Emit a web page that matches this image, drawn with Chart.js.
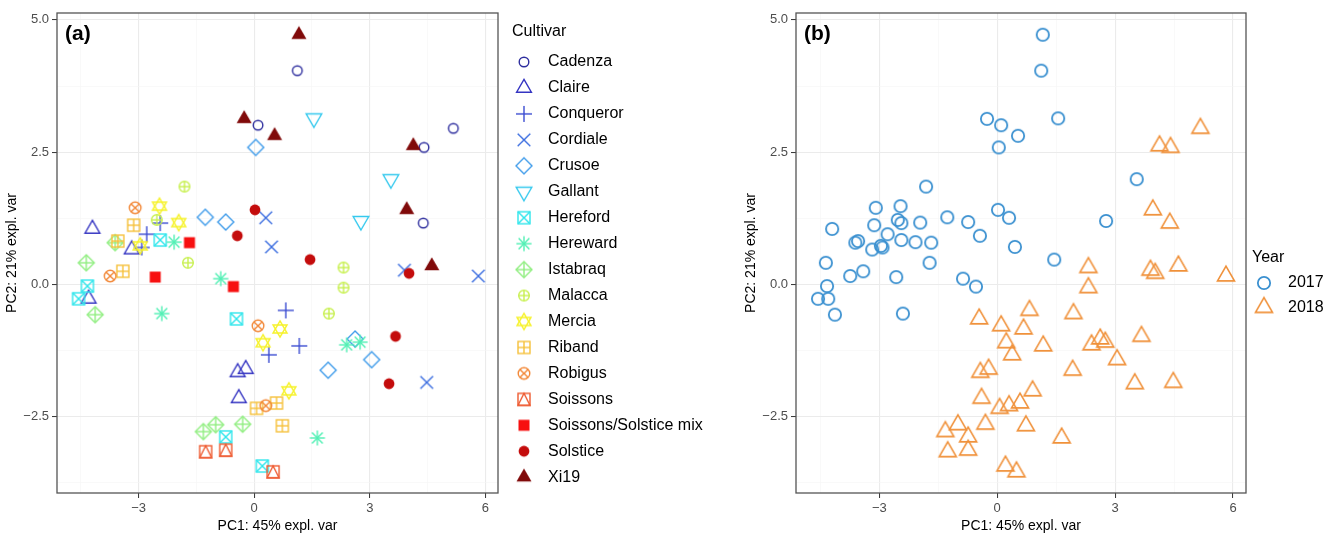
<!DOCTYPE html>
<html>
<head>
<meta charset="utf-8">
<script src="https://cdn.jsdelivr.net/npm/chart.js@4"></script>
<style>
  body { margin: 0; background: #fff; width: 1341px; height: 535px; overflow: hidden; position: relative; }
  canvas { position: absolute; top: 0; }
</style>
</head>
<body>
<canvas id="pcaCultivar" width="725" height="535" style="left:0"></canvas>
<canvas id="pcaYear" width="616" height="535" style="left:725px"></canvas>
<script>
// Cultivar names, with the ggplot shape and colour each one uses
const cultivars = ['Cadenza', 'Claire', 'Conqueror', 'Cordiale', 'Crusoe', 'Gallant', 'Hereford', 'Hereward',
    'Istabraq', 'Malacca', 'Mercia', 'Riband', 'Robigus', 'Soissons', 'Soissons/Solstice mix', 'Solstice', 'Xi19'];
const shapes = ['circle', 'triangle', 'plus', 'cross', 'diamond', 'triangleDown', 'squareCross', 'asterisk',
    'diamondPlus', 'circlePlus', 'david', 'squarePlus', 'circleCross', 'squareTriangle', 'squareFill', 'circleFill', 'triangleFill'];
const cultivarColors = ['#2e2e9e', '#3535c2', '#3b4cd2', '#3c6ee0', '#3e9bea', '#35c9ee', '#2ee6ec', '#50f0b4',
    '#90ee80', '#c8f050', '#f6f22a', '#f6c03a', '#f28838', '#ee5a30', '#f71010', '#c40c0c', '#800a0a'];

const years = ['2017', '2018'];
const yearColors = ['#3a90d0', '#f0913a'];

// One entry per sample: cultivar index, year, PC1, PC2
const sampleCultivar = [
    0, 0, 0, 0, 0,
    1, 1, 1, 1, 1, 1,
    2, 2, 2, 2, 2, 2,
    3, 3, 3, 3, 3,
    4, 4, 4, 4, 4, 4,
    5, 5, 5,
    6, 6, 6, 6, 6, 6,
    7, 7, 7, 7, 7, 7,
    8, 8, 8, 8, 8, 8,
    9, 9, 9, 9, 9, 9,
    10, 10, 10, 10, 10, 10,
    11, 11, 11, 11, 11, 11,
    12, 12, 12, 12,
    13, 13, 13,
    14, 14, 14,
    15, 15, 15, 15, 15, 15,
    16, 16, 16, 16, 16, 16
];
const sampleYear = [
    '2017', '2017', '2018', '2018', '2018',
    '2017', '2017', '2017', '2018', '2018', '2018',
    '2017', '2017', '2017', '2018', '2018', '2018',
    '2017', '2017', '2018', '2018', '2018',
    '2017', '2017', '2017', '2018', '2018', '2018',
    '2017', '2017', '2017',
    '2017', '2017', '2017', '2018', '2018', '2018',
    '2017', '2017', '2017', '2018', '2018', '2018',
    '2017', '2017', '2017', '2018', '2018', '2018',
    '2017', '2017', '2017', '2018', '2018', '2018',
    '2017', '2017', '2017', '2018', '2018', '2018',
    '2017', '2017', '2017', '2018', '2018', '2018',
    '2017', '2017', '2018', '2018',
    '2018', '2018', '2018',
    '2017', '2017', '2017',
    '2017', '2017', '2017', '2018', '2018', '2018',
    '2017', '2017', '2017', '2018', '2018', '2018'
];
const pc1 = [
    1.12, 0.10, 5.17, 4.41, 4.39,
    -4.20, -3.18, -4.30, -0.43, -0.22, -0.40,
    -2.44, -2.79, -2.92, 0.82, 1.17, 0.38,
    0.30, 0.45, 3.90, 5.82, 4.48,
    0.04, -1.27, -0.74, 2.62, 3.05, 1.92,
    1.55, 3.55, 2.77,
    -2.44, -4.33, -4.56, -0.46, -0.74, 0.21,
    -2.08, -0.87, -2.40, 2.40, 2.75, 1.64,
    -3.61, -4.36, -4.13, -0.30, -1.00, -1.32,
    -1.81, -2.53, -1.72, 2.32, 2.32, 1.94,
    -2.46, -1.96, -2.96, 0.67, 0.23, 0.90,
    -3.13, -3.54, -3.41, 0.06, 0.58, 0.73,
    -3.09, -3.74, 0.10, 0.30,
    -1.26, -0.74, 0.49,
    -1.68, -2.57, -0.54,
    0.02, -0.44, 1.45, 4.02, 3.67, 3.50,
    1.16, -0.26, 0.53, 4.13, 3.96, 4.61
];
const pc2 = [
    4.04, 3.01, 2.95, 2.59, 1.16,
    1.05, 0.66, -0.27, -1.66, -1.60, -2.15,
    1.16, 0.95, 0.70, -0.49, -1.16, -1.33,
    1.26, 0.71, 0.27, 0.16, -1.85,
    2.59, 1.27, 1.18, -1.03, -1.42, -1.62,
    3.14, 1.99, 1.20,
    0.84, -0.03, -0.27, -0.65, -2.88, -3.43,
    0.80, 0.11, -0.55, -1.14, -1.09, -2.90,
    0.79, 0.41, -0.57, -2.64, -2.65, -2.78,
    1.85, 1.22, 0.41, 0.32, -0.06, -0.55,
    1.48, 1.17, 0.73, -0.84, -1.10, -2.01,
    1.12, 0.82, 0.25, -2.34, -2.24, -2.67,
    1.45, 0.16, -0.78, -2.29,
    -3.16, -3.13, -3.54,
    0.79, 0.14, -0.04,
    1.41, 0.92, 0.47, 0.21, -0.98, -1.875,
    4.72, 3.13, 2.81, 2.62, 1.41, 0.35
];

// Axis breaks (major ones get labels, minor ones only a faint grid line)
const xMajor = [-3, 0, 3, 6];
const xMinor = [-4.5, -1.5, 1.5, 4.5];
const yMajor = [-2.5, 0, 2.5, 5];
const yMinor = [-3.75, -1.25, 1.25, 3.75];

const FONT = "'Liberation Sans', Arial, Helvetica, sans-serif";
Chart.defaults.font.family = FONT;

// Draws an R-style point shape into a small canvas used as a Chart.js pointStyle
function makeGlyph(shape, color, k) {
    const n = Math.ceil(26 * k);
    const c = document.createElement('canvas');
    c.width = n; c.height = n;
    const g = c.getContext('2d');
    g.translate(n / 2, n / 2);
    g.scale(k, k);
    g.strokeStyle = color;
    g.fillStyle = color;
    g.lineWidth = 1.4;
    const poly = pts => {
        g.beginPath();
        pts.forEach(([x, y], i) => i ? g.lineTo(x, y) : g.moveTo(x, y));
        g.closePath();
    };
    const seg = (x1, y1, x2, y2) => { g.beginPath(); g.moveTo(x1, y1); g.lineTo(x2, y2); g.stroke(); };
    const tri = (a, dir) => {
        const h = a * Math.sqrt(3);
        poly([[0, -dir * 2 * h / 3], [a, dir * h / 3], [-a, dir * h / 3]]);
    };
    const circ = r => { g.beginPath(); g.arc(0, 0, r, 0, Math.PI * 2); };
    switch (shape) {
        case 'circle': circ(4.8); g.stroke(); break;
        case 'triangle': tri(7.4, 1); g.stroke(); break;
        case 'plus': seg(-8, 0, 8, 0); seg(0, -8, 0, 8); break;
        case 'cross': seg(-6.3, -6.3, 6.3, 6.3); seg(-6.3, 6.3, 6.3, -6.3); break;
        case 'diamond': poly([[0, -8], [8, 0], [0, 8], [-8, 0]]); g.stroke(); break;
        case 'triangleDown': tri(7.8, -1); g.stroke(); break;
        case 'squareCross':
            g.strokeRect(-6, -6, 12, 12); seg(-6, -6, 6, 6); seg(-6, 6, 6, -6); break;
        case 'asterisk': {
            const d = 5.4;
            seg(-7.6, 0, 7.6, 0); seg(0, -7.6, 0, 7.6); seg(-d, -d, d, d); seg(-d, d, d, -d); break;
        }
        case 'diamondPlus':
            poly([[0, -8], [8, 0], [0, 8], [-8, 0]]); g.stroke(); seg(-8, 0, 8, 0); seg(0, -8, 0, 8); break;
        case 'circlePlus':
            circ(5.3); g.stroke(); seg(-5.3, 0, 5.3, 0); seg(0, -5.3, 0, 5.3); break;
        case 'david': tri(7, 1); g.stroke(); tri(7, -1); g.stroke(); break;
        case 'squarePlus':
            g.strokeRect(-6, -6, 12, 12); seg(-6, 0, 6, 0); seg(0, -6, 0, 6); break;
        case 'circleCross': {
            const e = 5.8 * Math.SQRT1_2;
            circ(5.8); g.stroke(); seg(-e, -e, e, e); seg(-e, e, e, -e); break;
        }
        case 'squareTriangle':
            g.strokeRect(-6, -6, 12, 12); poly([[0, -6], [6, 6], [-6, 6]]); g.stroke(); break;
        case 'squareFill': g.fillRect(-5.5, -5.5, 11, 11); break;
        case 'circleFill': circ(5.4); g.fill(); break;
        case 'triangleFill': tri(7.5, 1); g.fill(); break;
    }
    return c;
}

const cultivarGlyphs = cultivars.map((_, i) => makeGlyph(shapes[i], cultivarColors[i], 1));
const yearGlyphs = [makeGlyph('circle', yearColors[0], 1.28), makeGlyph('triangle', yearColors[1], 1.15)];

const fmtNum = (v, digits) => {
    const s = Math.abs(v).toFixed(digits);
    return v < 0 ? '\u2212' + s : s;
};

function buildScales() {
    const isMajor = (list, v) => list.some(m => Math.abs(m - v) < 1e-9);
    const gridFor = major => ({
        color: ctx => isMajor(major, ctx.tick.value) ? '#ebebeb' : '#f5f5f5',
        lineWidth: ctx => isMajor(major, ctx.tick.value) ? 1.1 : 0.6,
        tickColor: ctx => isMajor(major, ctx.tick.value) ? '#333333' : 'rgba(0,0,0,0)',
        tickLength: 5,
        tickWidth: 1
    });
    return {
        x: {
            type: 'linear',
            min: -5.12,
            max: 6.33,
            afterBuildTicks: s => { s.ticks = [...xMinor, ...xMajor].sort((a, b) => a - b).map(v => ({ value: v })); },
            afterFit: s => { s.height = 42; },
            ticks: {
                autoSkip: false,
                maxRotation: 0,
                padding: 3,
                color: '#4d4d4d',
                font: { size: 13 },
                callback: v => isMajor(xMajor, v) ? fmtNum(v, 0) : ''
            },
            grid: gridFor(xMajor),
            border: { display: false },
            title: { display: true, text: 'PC1: 45% expl. var', color: '#000', font: { size: 14 }, padding: { top: 0, bottom: 0 } }
        },
        y: {
            type: 'linear',
            min: -3.94,
            max: 5.13,
            afterBuildTicks: s => { s.ticks = [...yMinor, ...yMajor].sort((a, b) => a - b).map(v => ({ value: v })); },
            afterFit: s => { s.width = 57; },
            ticks: {
                autoSkip: false,
                padding: 3,
                color: '#4d4d4d',
                font: { size: 13 },
                callback: v => isMajor(yMajor, v) ? fmtNum(v, 1) : ''
            },
            grid: gridFor(yMajor),
            border: { display: false },
            title: { display: true, text: 'PC2: 21% expl. var', color: '#000', font: { size: 14 }, padding: { top: 4, bottom: 0 } }
        }
    };
}

// Panel frame, tag and hand-placed legend (ggplot style)
function panelDecor(tag, legendTitle, names, glyphs, lx, ly, first, step) {
    return {
        id: 'decor' + tag,
        afterDraw(chart) {
            const { ctx, chartArea: a } = chart;
            ctx.save();
            ctx.strokeStyle = '#555';
            ctx.lineWidth = 1.3;
            ctx.strokeRect(a.left, a.top, a.right - a.left, a.bottom - a.top);

            ctx.fillStyle = '#000';
            ctx.font = 'bold 21px ' + FONT;
            ctx.textBaseline = 'middle';
            ctx.textAlign = 'left';
            ctx.fillText(tag, a.left + 8, 34);

            ctx.font = '16px ' + FONT;
            ctx.fillText(legendTitle, lx, ly);
            names.forEach((name, i) => {
                const y = ly + first + i * step;
                const img = glyphs[i];
                ctx.drawImage(img, lx + 12 - img.width / 2, y - img.height / 2);
                ctx.fillText(name, lx + 36, y);
            });
            ctx.restore();
        }
    };
}

function pointsWhere(test) {
    const out = [];
    pc1.forEach((x, i) => { if (test(i)) out.push({ x: x, y: pc2[i] }); });
    return out;
}

new Chart(document.getElementById('pcaCultivar'), {
    type: 'scatter',
    data: {
        datasets: cultivars.map((name, ci) => ({
            label: name,
            data: pointsWhere(i => sampleCultivar[i] === ci),
            pointStyle: cultivarGlyphs[ci],
            pointRadius: 6,
            order: cultivars.length - ci
        }))
    },
    options: {
        responsive: false,
        animation: false,
        layout: { padding: { left: 0, right: 227, top: 13, bottom: 0 } },
        scales: buildScales(),
        plugins: { legend: { display: false }, tooltip: { enabled: false } }
    },
    plugins: [panelDecor('(a)', 'Cultivar', cultivars, cultivarGlyphs, 512, 32, 30, 25.95)]
});

new Chart(document.getElementById('pcaYear'), {
    type: 'scatter',
    data: {
        datasets: years.map((yr, yi) => ({
            label: yr,
            data: pointsWhere(i => sampleYear[i] === yr),
            pointStyle: yearGlyphs[yi],
            pointRadius: 7,
            order: years.length - yi
        }))
    },
    options: {
        responsive: false,
        animation: false,
        layout: { padding: { left: 14, right: 95, top: 13, bottom: 0 } },
        scales: buildScales(),
        plugins: { legend: { display: false }, tooltip: { enabled: false } }
    },
    plugins: [panelDecor('(b)', 'Year', years, yearGlyphs, 527, 258, 25, 24.5)]
});
</script>
</body>
</html>
